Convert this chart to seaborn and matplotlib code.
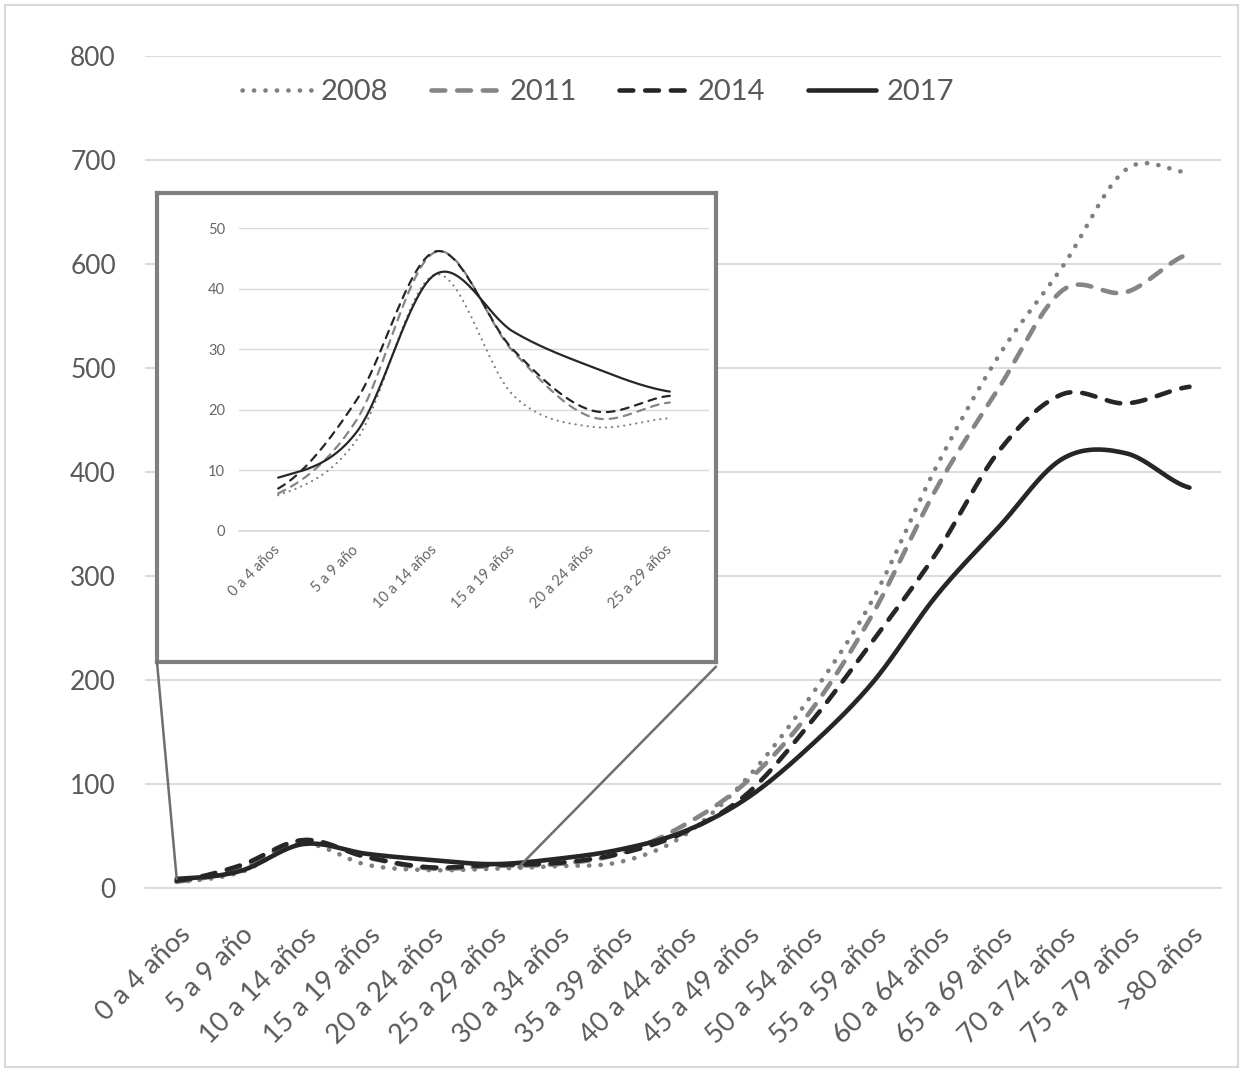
#!/usr/bin/env python
# -*- coding: utf-8 -*-

import matplotlib
matplotlib.use("Agg")
import matplotlib.pyplot as plt
import numpy as np
import pandas as pd
import seaborn as sns
from matplotlib.patches import ConnectionPatch, Rectangle
from matplotlib.transforms import ScaledTranslation

categories = [
    "0 a 4 años", "5 a 9 año", "10 a 14 años", "15 a 19 años", "20 a 24 años",
    "25 a 29 años", "30 a 34 años", "35 a 39 años", "40 a 44 años", "45 a 49 años",
    "50 a 54 años", "55 a 59 años", "60 a 64 años", "65 a 69 años", "70 a 74 años",
    "75 a 79 años", ">80 años",
]
n_inset = 6
inset_categories = categories[:n_inset]
years = ["2008", "2011", "2014", "2017"]

v2008 = [5.9, 15.0, 42.3, 22.4, 17.2, 18.6, 21, 25, 50, 105, 183, 278, 405, 513, 598, 691, 688]
v2011 = [6.2, 18.3, 46.0, 29.6, 18.8, 21.2, 23, 33, 60, 102, 169, 264, 384, 482, 575, 573, 610]
v2014 = [7.0, 21.6, 46.1, 29.9, 19.9, 22.3, 24, 33, 53, 90, 158, 238, 322, 421, 475, 466, 482]
v2017 = [8.8, 16.3, 42.3, 32.9, 27.1, 23.0, 28, 37, 54, 86, 136, 198, 281, 348, 413, 418, 385]
series = {"2008": v2008, "2011": v2011, "2014": v2014, "2017": v2017}

colors = {"2008": "#808080", "2011": "#858585", "2014": "#262626", "2017": "#262626"}
GRID = "#d9d9d9"
TXT = "#595959"


def smooth(values, n=40):
    # Excel-like smoothed line (Catmull-Rom through the points)
    y = np.asarray(values, dtype=float)
    p = np.concatenate([[y[0]], y, [y[-1]]])
    xs, ys = [], []
    t = np.linspace(0, 1, n, endpoint=False)
    for i in range(len(y) - 1):
        p0, p1, p2, p3 = p[i:i + 4]
        yy = 0.5 * (2 * p1 + (-p0 + p2) * t + (2 * p0 - 5 * p1 + 4 * p2 - p3) * t ** 2
                    + (-p0 + 3 * p1 - 3 * p2 + p3) * t ** 3)
        xs.append(i + t)
        ys.append(yy)
    xs.append([len(y) - 1])
    ys.append([y[-1]])
    return np.concatenate(xs), np.concatenate(ys)


def long_df(n_points):
    rows = []
    for yr in years:
        xs, ys = smooth(series[yr][:n_points])
        rows.append(pd.DataFrame({"x": xs, "y": ys, "year": yr}))
    return pd.concat(rows, ignore_index=True)


sns.set_theme(style="white")
plt.rcParams["font.family"] = ["Lato", "DejaVu Sans"]

fig = plt.figure(figsize=(12.43, 10.72), dpi=100)
fig.patch.set_facecolor("white")

# ---- main chart
ax = fig.add_axes([0.1167, 0.1716, 0.8657, 0.7761])
main_dashes = {"2008": (0.05, 2.45), "2011": (3, 2.6), "2014": (3, 2.6), "2017": ""}
sns.lineplot(
    data=long_df(len(categories)), x="x", y="y", hue="year", style="year",
    palette=colors, dashes=main_dashes, sort=False, estimator=None, legend=False,
    linewidth=3.3, dash_capstyle="round", solid_capstyle="round", ax=ax,
)
ax.set_xlim(-0.5, len(categories) - 0.5)
ax.set_ylim(0, 800)
ax.set_yticks(np.arange(0, 801, 100))
ax.set_xticks(range(len(categories)))
ax.set_xticklabels(categories, rotation=45, ha="right", va="center", rotation_mode="anchor")
ax.set_xticks(np.arange(-0.5, len(categories) - 1, 2), minor=True)
ax.tick_params(axis="x", which="major", length=0, pad=31, labelsize=19.5, labelcolor=TXT)
ax.tick_params(axis="x", which="minor", direction="in", length=6, width=1.2, color=GRID)
ax.tick_params(axis="y", length=0, pad=21, labelsize=19, labelcolor=TXT)
shift = ScaledTranslation(7 / 72, 0, fig.dpi_scale_trans)
for lab in ax.get_xticklabels():
    lab.set_transform(lab.get_transform() + shift)
ax.yaxis.grid(True, color=GRID, lw=1.3)
ax.set_axisbelow(True)
for s in ["left", "top", "right"]:
    ax.spines[s].set_visible(False)
ax.spines["bottom"].set_color(GRID)
ax.spines["bottom"].set_linewidth(1.3)
ax.set_xlabel("")
ax.set_ylabel("")

leg = ax.legend(
    handles=ax.lines[:4], labels=years, loc="center", bbox_to_anchor=(0.421, 0.957),
    ncol=4, frameon=False, fontsize=21, handlelength=2.35, handletextpad=0.35,
    columnspacing=1.45,
)
for t in leg.get_texts():
    t.set_color(TXT)

# ---- inset box and chart
ax_box = fig.add_axes([0.1263, 0.3825, 0.4497, 0.4375])
ax_box.set_facecolor("white")
ax_box.set_xticks([])
ax_box.set_yticks([])
for s in ax_box.spines.values():
    s.set_color("#7f7f7f")
    s.set_linewidth(3)

ax_in = fig.add_axes([0.1923, 0.5047, 0.3781, 0.2826])
ax_in.patch.set_alpha(0)
inset_dashes = {"2008": (0.05, 2.7), "2011": (3.5, 3), "2014": (3.5, 3), "2017": ""}
sns.lineplot(
    data=long_df(n_inset), x="x", y="y", hue="year", style="year",
    palette=colors, dashes=inset_dashes, sort=False, estimator=None, legend=False,
    linewidth=1.6, dash_capstyle="round", ax=ax_in,
)
ax_in.set_xlim(-0.5, n_inset - 0.5)
ax_in.set_ylim(0, 50)
ax_in.set_yticks(np.arange(0, 51, 10))
ax_in.set_xticks(range(n_inset))
ax_in.set_xticklabels(inset_categories, rotation=45, ha="right", va="center", rotation_mode="anchor")
ax_in.set_xticks(np.arange(-0.5, n_inset, 1), minor=True)
ax_in.tick_params(axis="x", which="major", length=0, pad=12, labelsize=10.5, labelcolor="#666666")
ax_in.tick_params(axis="x", which="minor", direction="in", length=4, width=1, color=GRID)
ax_in.tick_params(axis="y", length=0, pad=10, labelsize=10.5, labelcolor="#666666")
ax_in.yaxis.grid(True, color=GRID, lw=1)
ax_in.set_axisbelow(True)
for s in ["left", "top", "right"]:
    ax_in.spines[s].set_visible(False)
ax_in.spines["bottom"].set_color(GRID)
ax_in.set_xlabel("")
ax_in.set_ylabel("")

# connector lines from the inset to the zoomed range
for xy_box, xy_main in [((0, 0), (0, v2017[0])), ((1, -0.01), (5.4, 20))]:
    con = ConnectionPatch(xyA=xy_box, coordsA=ax_box.transAxes, xyB=xy_main,
                          coordsB=ax.transData, color="#6e6e6e", lw=1.8)
    fig.add_artist(con)

# outer chart border
fig.add_artist(Rectangle((5 / 1243, 5 / 1072), 1233 / 1243, 1062 / 1072,
                         transform=fig.transFigure, fill=False, edgecolor=GRID, lw=1.5))

fig.savefig("out.png", dpi=100)
